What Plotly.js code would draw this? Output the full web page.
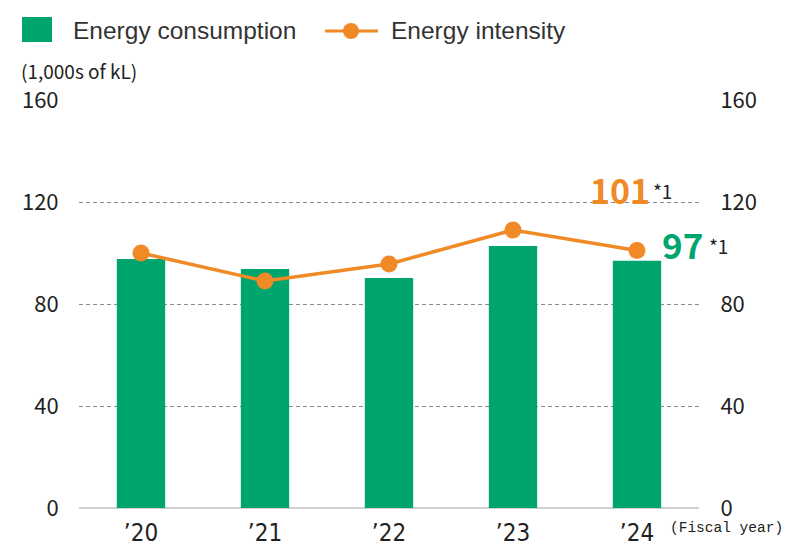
<!DOCTYPE html>
<html>
<head>
<meta charset="utf-8">
<script src="https://cdn.plot.ly/plotly-3.0.1.min.js"></script>
<style>html,body{margin:0;padding:0;background:#fff;}#chart{width:801px;height:547px;}</style>
</head>
<body>
<div id="chart"></div>
<script>
const years = ["\u201920", "\u201921", "\u201922", "\u201923", "\u201924"];
const consumption = [97.6, 93.7, 90.2, 102.7, 97];
const intensity = [100, 89, 95.7, 109, 101];
const yTicks = [0, 40, 80, 120, 160];

const GREEN = "#00a56e";
const ORANGE = "#f08a26";
const FONT = "'Noto Sans CJK JP', 'Noto Sans', sans-serif";
const NARROW = "'Liberation Sans Narrow', 'DejaVu Sans Condensed', sans-serif";
const MONO = "'Liberation Mono', 'DejaVu Sans Mono', monospace";

// plot area in pixels: l=79, r=699, t=100, b=508
const L = 79, R = 699, T = 100, B = 508;
const px = x => (x - L) / (R - L);
const py = y => (B - y) / (B - T);

const traces = [
  {type: "bar", x: years, y: consumption, marker: {color: GREEN}, width: 0.39,
   name: "Energy consumption", showlegend: false, hoverinfo: "skip"},
  {type: "scatter", mode: "lines+markers", x: years, y: intensity, yaxis: "y2",
   line: {color: ORANGE, width: 3.5}, marker: {color: ORANGE, size: 17},
   name: "Energy intensity", showlegend: false, hoverinfo: "skip", cliponaxis: false}
];

const last = years.length - 1;
const layout = {
  width: 801, height: 547,
  margin: {l: L, r: 801 - R, t: T, b: 547 - B},
  paper_bgcolor: "#fff", plot_bgcolor: "#fff",
  font: {family: FONT, color: "#222", size: 20},
  xaxis: {type: "category", range: [-0.5, years.length - 0.5], autorange: false,
    showgrid: false, zeroline: false, showline: false,
    ticks: "outside", ticklen: 3, tickcolor: "rgba(0,0,0,0)",
    tickfont: {family: NARROW, size: 24, color: "#222"}},
  yaxis: {range: [0, 160], autorange: false, tickvals: yTicks, showgrid: true, gridcolor: "#8a8a8a",
    griddash: "4px,3px", gridwidth: 1, zeroline: true, zerolinecolor: "#d0d0d0", zerolinewidth: 2.5,
    showline: false, ticks: "outside", ticklen: 15, tickcolor: "rgba(0,0,0,0)",
    tickfont: {size: 22, color: "#222"}},
  yaxis2: {range: [0, 160], autorange: false, tickvals: yTicks, overlaying: "y", side: "right", showgrid: false,
    zeroline: false, showline: false, ticks: "outside", ticklen: 16, tickcolor: "rgba(0,0,0,0)",
    tickfont: {size: 22, color: "#222"}},
  shapes: [
    {type: "rect", xref: "paper", yref: "paper", x0: px(22), x1: px(52), y0: py(42), y1: py(17),
     fillcolor: GREEN, line: {width: 0}},
    {type: "line", xref: "paper", yref: "paper", x0: px(325), x1: px(378), y0: py(31), y1: py(31),
     line: {color: ORANGE, width: 3}},
    {type: "circle", xref: "paper", yref: "paper", x0: px(343), x1: px(359), y0: py(39), y1: py(23),
     fillcolor: ORANGE, line: {width: 0}}
  ],
  annotations: [
    {xref: "paper", yref: "paper", x: px(71), y: py(31), xanchor: "left", yanchor: "middle",
     text: "Energy consumption", showarrow: false, font: {size: 24.5, color: "#333", family: "'Liberation Sans', Arial, sans-serif"}},
    {xref: "paper", yref: "paper", x: px(389), y: py(31), xanchor: "left", yanchor: "middle",
     text: "Energy intensity", showarrow: false, font: {size: 24.5, color: "#333", family: "'Liberation Sans', Arial, sans-serif"}},
    {xref: "paper", yref: "paper", x: px(19), y: py(70), xanchor: "left", yanchor: "middle",
     text: "(1,000s of kL)", showarrow: false, font: {size: 19, color: "#222"}},
    {xref: "paper", yref: "paper", x: px(668), y: py(528), xanchor: "left", yanchor: "middle",
     text: "(Fiscal year)", showarrow: false, font: {size: 14.5, color: "#222", family: MONO}},
    {xref: "x", yref: "y2", x: years[last], y: intensity[last], xanchor: "right", yanchor: "middle",
     xshift: 15, yshift: 61, showarrow: false,
     text: "<b>" + Math.round(intensity[last]) + "</b>", font: {size: 34, color: ORANGE}},
    {xref: "x", yref: "y2", x: years[last], y: intensity[last], xanchor: "left", yanchor: "middle",
     xshift: 14, yshift: 60, showarrow: false, text: "*1", font: {size: 19, color: "#222"}},
    {xref: "x", yref: "y", x: years[last], y: consumption[last], xanchor: "left", yanchor: "middle",
     xshift: 23, yshift: 17, showarrow: false,
     text: "<b>" + Math.round(consumption[last]) + "</b>", font: {size: 35, color: GREEN}},
    {xref: "x", yref: "y", x: years[last], y: consumption[last], xanchor: "left", yanchor: "middle",
     xshift: 70, yshift: 15, showarrow: false, text: "*1", font: {size: 19, color: "#222"}}
  ]
};

Plotly.newPlot("chart", traces, layout, {staticPlot: true, displayModeBar: false});
</script>
</body>
</html>
